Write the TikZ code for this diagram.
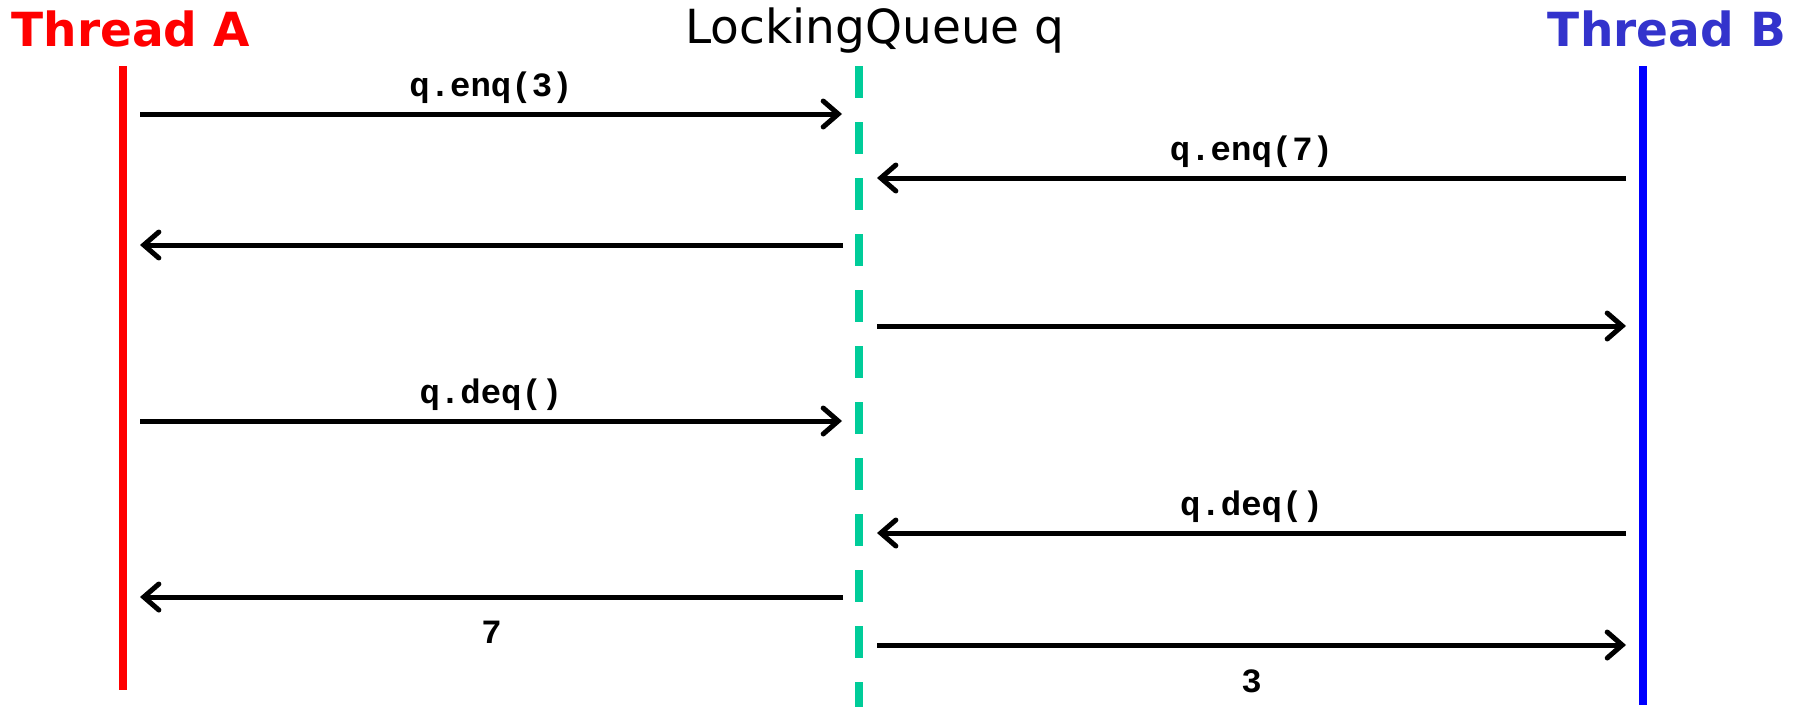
\documentclass[tikz,border=0pt]{standalone}
\usepackage{fontspec}
\usepackage{tikz}
\usetikzlibrary{arrows.meta}
\newfontfamily\headfont{DejaVu Sans}
\newfontfamily\msgfont{Liberation Mono}
\definecolor{threadred}{RGB}{255,0,0}
\definecolor{threadblue}{RGB}{0,0,255}
\definecolor{titleblue}{RGB}{51,51,204}
\definecolor{queuegreen}{RGB}{0,204,153}
\tikzset{
    lifeline/.style={line width=8pt},
    msg/.style={line width=5pt, -{Straight Barb[length=15pt,width=26pt,line width=5pt,line cap=round]}},
    msglabel/.style={font=\msgfont\bfseries\fontsize{34}{34}\selectfont, inner sep=8pt},
}

\begin{document}
\begin{tikzpicture}[x=1pt, y=-1pt]
            \useasboundingbox (0,0) rectangle (1804,707);
            % titles
            \node[anchor=base, text=threadred, font=\headfont\bfseries\fontsize{47}{47}\selectfont, inner sep=0pt] (titleA) at (131,46) {Thread A};
            \node[anchor=base, font=\headfont\fontsize{47}{47}\selectfont, inner sep=0pt] (titleQ) at (875,43) {LockingQueue q};
            \node[anchor=base, text=titleblue, font=\headfont\bfseries\fontsize{47}{47}\selectfont, inner sep=0pt] (titleB) at (1667,46) {Thread B};
            % lifelines
            \coordinate (Atop) at (123,66);
            \coordinate (Abot) at (123,690);
            \coordinate (Qtop) at (859,66);
            \coordinate (Qbot) at (859,707);
            \coordinate (Btop) at (1643,66);
            \coordinate (Bbot) at (1643,705);
            \draw[lifeline, threadred] (Atop) -- (Abot);
            \draw[lifeline, queuegreen, dash pattern=on 32pt off 24pt] (Qtop) -- (Qbot);
            \draw[lifeline, threadblue] (Btop) -- (Bbot);
            % message end points
            \coordinate (A1) at (140,114);
            \coordinate (Q1) at (842,114);
            \coordinate (B2) at (1626,178);
            \coordinate (Q2) at (877,178);
            \coordinate (Q3) at (843,245);
            \coordinate (A3) at (140,245);
            \coordinate (Q4) at (877,326);
            \coordinate (B4) at (1626,326);
            \coordinate (A5) at (140,421);
            \coordinate (Q5) at (842,421);
            \coordinate (B6) at (1626,533);
            \coordinate (Q6) at (877,533);
            \coordinate (Q7) at (843,597);
            \coordinate (A7) at (140,597);
            \coordinate (Q8) at (877,645);
            \coordinate (B8) at (1626,645);
            % messages
            \draw[msg] (A1) -- node[msglabel, above] (enq3) {q.enq(3)} (Q1);
            \draw[msg] (B2) -- node[msglabel, above] (enq7) {q.enq(7)} (Q2);
            \draw[msg] (Q3) -- (A3);
            \draw[msg] (Q4) -- (B4);
            \draw[msg] (A5) -- node[msglabel, above] (deqA) {q.deq()} (Q5);
            \draw[msg] (B6) -- node[msglabel, above] (deqB) {q.deq()} (Q6);
            \draw[msg] (Q7) -- node[msglabel, below=14pt] (retA) {7} (A7);
            \draw[msg] (Q8) -- node[msglabel, below=14pt] (retB) {3} (B8);
        \end{tikzpicture}
\end{document}
